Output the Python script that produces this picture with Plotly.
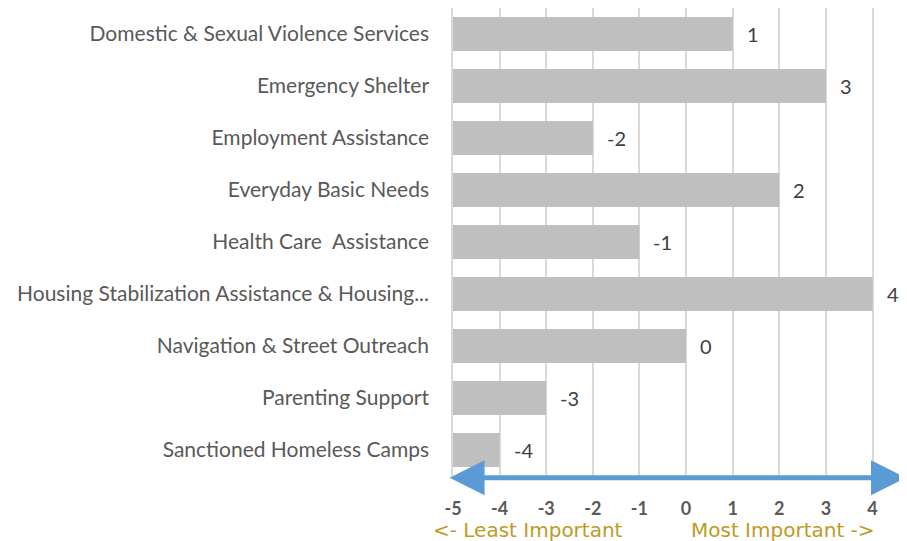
import plotly.graph_objects as go

categories = [
    "Domestic & Sexual Violence Services",
    "Emergency Shelter",
    "Employment Assistance",
    "Everyday Basic Needs",
    "Health Care  Assistance",
    "Housing Stabilization Assistance & Housing...",
    "Navigation & Street Outreach",
    "Parenting Support",
    "Sanctioned Homeless Camps",
]
values = [1, 3, -2, 2, -1, 4, 0, -3, -4]
axis_base = -5
tick_vals = [-5, -4, -3, -2, -1, 0, 1, 2, 3, 4]

FONT = "Lato"
GOLD_FONT = "DejaVu Sans"
fig = go.Figure()
fig.add_trace(go.Bar(
    y=categories,
    x=[v - axis_base for v in values],
    base=axis_base,
    orientation="h",
    marker=dict(color="#bfbfbf", line=dict(width=0)),
    hoverinfo="skip",
))

# value labels to the right of each bar end
for c, v in zip(categories, values):
    fig.add_annotation(
        x=v, y=c, xref="x", yref="y", text=str(v), showarrow=False,
        xanchor="left", yanchor="middle", xshift=12,
        font=dict(family=FONT, size=20, color="#404040"),
    )

fig.update_layout(
    width=899, height=533, autosize=False,
    margin=dict(l=445, r=0, t=0, b=65, autoexpand=False),
    plot_bgcolor="white", paper_bgcolor="white",
    bargap=0.35,
    showlegend=False,
    font=dict(family=FONT, size=20, color="#595959"),
    xaxis=dict(
        range=[-5, 4.74], tickvals=tick_vals, ticktext=[str(t) for t in tick_vals],
        showgrid=True, gridcolor="#d9d9d9", gridwidth=1.5, zeroline=False,
        showline=False, ticks="", ticklabelstandoff=20, automargin=False,
        tickfont=dict(family=FONT, size=18, color="#595959", weight=700),
        fixedrange=True,
    ),
    yaxis=dict(
        autorange="reversed", showgrid=False, zeroline=False,
        showline=True, linecolor="#d9d9d9", linewidth=1.5,
        ticks="", ticklabelstandoff=18, automargin=False,
        tickfont=dict(family=FONT, size=21, color="#595959"),
        fixedrange=True,
    ),
)

# blue double-headed arrow along the bottom
fig.add_annotation(
    x=1.02, y=-0.004, xref="paper", yref="paper",
    ax=-468, ay=0, axref="pixel", ayref="pixel",
    showarrow=True, arrowhead=2, startarrowhead=2, arrowside="end+start",
    arrowsize=1.4, startarrowsize=1.4, arrowwidth=5, arrowcolor="#5b9bd5",
    text="",
)
fig.add_annotation(
    x=0.0, y=-0.115, xref="paper", yref="paper", xanchor="left", yanchor="middle",
    text="<- Least Important", showarrow=False,
    font=dict(family=GOLD_FONT, size=20, color="#c09a1e"),
    xshift=-22,
)
fig.add_annotation(
    x=1.0, y=-0.115, xref="paper", yref="paper", xanchor="right", yanchor="middle",
    text="Most Important ->", showarrow=False,
    font=dict(family=GOLD_FONT, size=20, color="#c09a1e"),
    xshift=-30,
)

fig.write_html("out.html")
